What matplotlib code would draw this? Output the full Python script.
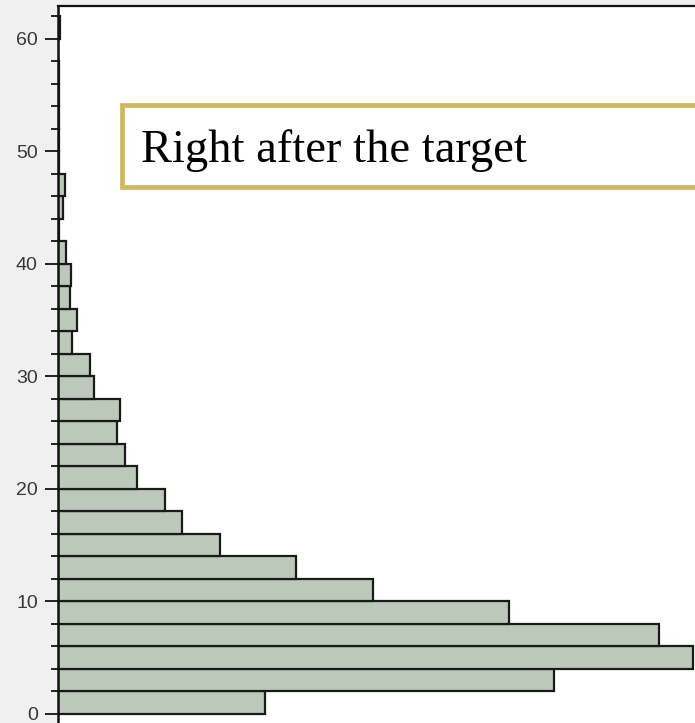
#!/usr/bin/env python3

# horizontal histogram with a callout box
import matplotlib
matplotlib.use('Agg')
import matplotlib.pyplot as plt
from matplotlib.patches import Rectangle
from matplotlib.ticker import MultipleLocator

# bin edges (y) and counts per bin
bin_start = list(range(0, 62, 2))
counts = [207, 496, 635, 601, 451, 315, 238, 162, 124, 107,
          79, 67, 59, 62, 36, 32, 14, 19, 12, 13,
          8, 1, 5, 7, 1, 1, 1, 1, 1, 0, 2]
major_ticks = [0, 10, 20, 30, 40, 50, 60]
callout = 'Right after the target'

fig = plt.figure(figsize=(6.95, 7.23), dpi=100, facecolor='#f0f0f0')
W, H = 695, 723
ax = fig.add_axes([58 / W, 0, 1 - 58 / W, 717 / H])
ax.set_facecolor('white')

ax.barh(bin_start, counts, height=2, align='edge',
        color='#bcc9ba', edgecolor='#1a1a1a', linewidth=1.6)

ax.set_xlim(0, 637)
ax.set_ylim(-0.8, 62.93)

# axes styling
for s in ['right', 'bottom']:
    ax.spines[s].set_visible(False)
ax.spines['left'].set_linewidth(1.8)
ax.spines['top'].set_linewidth(1.6)
ax.spines['left'].set_color('#111111')
ax.spines['top'].set_color('#111111')
ax.set_xticks([])
ax.set_yticks(major_ticks)
ax.yaxis.set_minor_locator(MultipleLocator(2))
ax.tick_params(axis='y', which='major', length=9.5, width=1.4, color='#222222',
               labelsize=14, labelcolor='#383838', pad=5)
ax.tick_params(axis='y', which='minor', length=5, width=1.4, color='#222222')
for lab in ax.get_yticklabels():
    lab.set_family(['Liberation Sans', 'DejaVu Sans'])

# callout box (figure pixel coordinates)
box = Rectangle((122 / W, 1 - 187 / H), (W + 20 - 122) / W, (187 - 105) / H,
                transform=fig.transFigure, facecolor='white',
                edgecolor='#cfb960', linewidth=3.4, zorder=5, clip_on=False)
fig.patches.append(box)
fig.text(141 / W, 1 - 162 / H, callout, family='Liberation Serif',
         fontsize=33.5, color='black', va='baseline', ha='left', zorder=6)

plt.savefig('out.png', dpi=100, facecolor=fig.get_facecolor())
